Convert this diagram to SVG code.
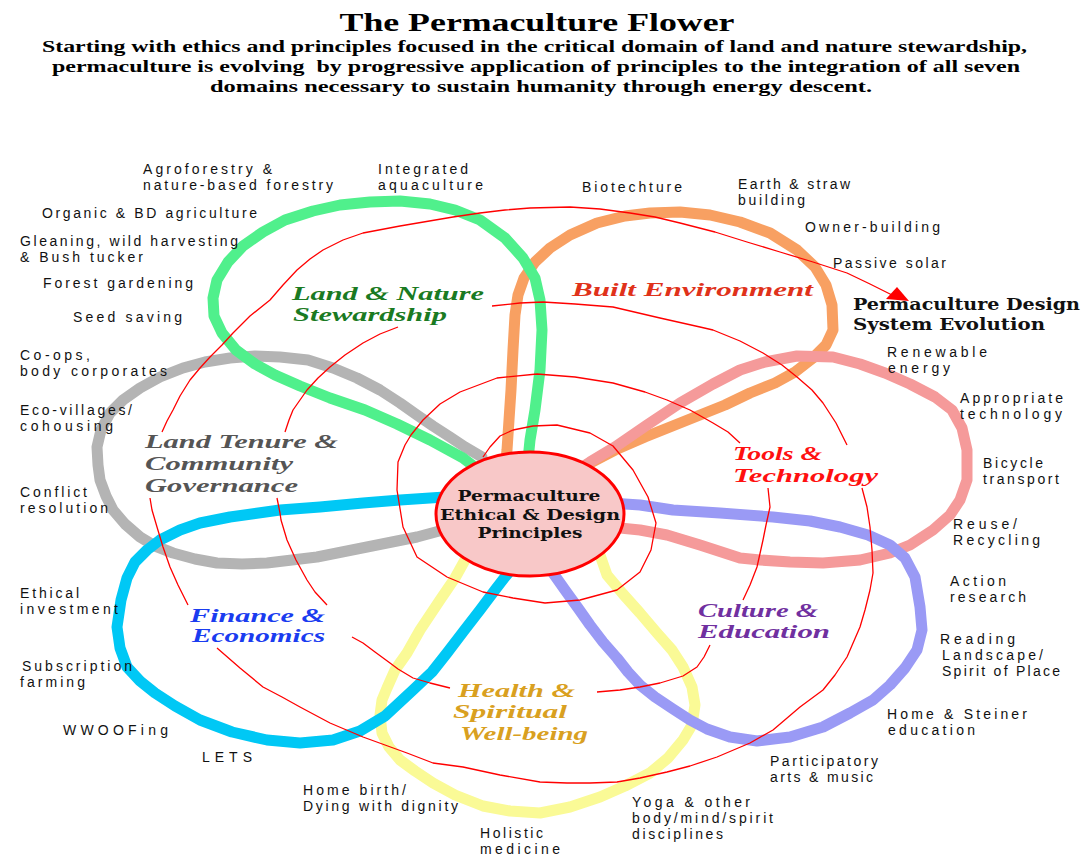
<svg xmlns="http://www.w3.org/2000/svg" width="1085" height="857" viewBox="0 0 1085 857">
<style>
.bg{fill:#fff}
.title{font-family:"Liberation Serif","Times New Roman",serif;font-weight:bold;fill:#000}
.item{font-family:"Liberation Sans",Arial,sans-serif;font-size:14px;fill:#111}
.dom{font-family:"Liberation Serif",serif;font-style:italic;font-weight:bold;font-size:19px}
.ctr{font-family:"DejaVu Serif","Liberation Serif",serif;font-weight:bold;font-size:15px;fill:#111}
.evo{font-family:"DejaVu Serif","Liberation Serif",serif;font-weight:bold;font-size:16px;fill:#111}
.loop{fill:none;stroke-width:11;stroke-linejoin:round;stroke-linecap:round}
.spiral{fill:none;stroke:#ff0000;stroke-width:1.3;stroke-linejoin:round}
</style>
<rect class="bg" x="0" y="0" width="1085" height="857"/>

<g id="header">
<text class="title" x="537" y="31" font-size="26" text-anchor="middle" textLength="395" lengthAdjust="spacingAndGlyphs">The Permaculture Flower</text>
<text class="title" x="42" y="52" font-size="17" textLength="985" lengthAdjust="spacingAndGlyphs">Starting with ethics and principles focused in the critical domain of land and nature stewardship,</text>
<text class="title" x="52" y="72" font-size="17" textLength="968" lengthAdjust="spacingAndGlyphs" xml:space="preserve">permaculture is evolving  by progressive application of principles to the integration of all seven</text>
<text class="title" x="210" y="92" font-size="17" textLength="662" lengthAdjust="spacingAndGlyphs">domains necessary to sustain humanity through energy descent.</text>
</g>

<g id="petal-loops">
<polyline class="loop" stroke="#fafa96" points="600,555 607,575 623,594 640,613 657,633 672,650 683,667 692,687 695,705 692,725 683,740 668,758 650,773 625,786 600,797 570,807 540,813 510,811 483,806 455,795 433,783 415,771 400,760 389,747 382,733 380,715 382,700 387,688 395,670 407,653 420,630 440,600 455,578 465,560"/>
<polyline class="loop" stroke="#b4b4b4" points="482,457 465,447 450,437 433,426 417,415 400,403 380,390 357,378 333,368 308,360 280,357 255,356 230,358 205,362 183,368 160,377 140,388 123,400 110,413 101,430 97,447 98,465 100,480 106,496 113,510 125,524 140,537 155,546 173,553 195,559 217,563 242,564 267,563 292,560 317,557 342,552 367,547 392,542 417,537 443,530"/>
<polyline class="loop" stroke="#f8a062" points="505,470 507,450 509,420 511,390 513,350 515,315 518,295 524,278 535,262 550,248 570,235 597,223 625,216 650,213 680,212 710,215 740,222 770,233 797,250 815,267 826,285 832,305 833,330 826,345 813,358 795,372 775,383 750,393 725,405 700,415 675,425 645,437 615,450 590,463 570,475"/>
<polyline class="loop" stroke="#50f08c" points="527,470 530,440 535,410 540,370 542,330 540,300 535,278 523,258 505,238 480,220 455,210 430,204 400,201 370,202 340,205 313,211 285,220 263,232 243,246 228,262 217,280 213,298 214,316 222,333 236,350 255,364 275,375 300,386 330,398 365,410 397,424 430,440 463,458 485,475"/>
<polyline class="loop" stroke="#f59a9a" points="570,475 590,462 615,447 647,425 680,403 713,384 740,370 765,362 797,356 833,357 860,364 885,373 910,384 935,397 952,410 962,428 967,450 967,480 960,500 950,515 933,530 910,545 890,553 860,560 823,563 790,562 760,560 740,558 700,545 667,535 640,530 610,527"/>
<polyline class="loop" stroke="#9a9af5" points="610,503 640,505 673,510 720,513 773,517 810,521 840,527 868,535 890,545 905,558 915,577 920,607 922,630 917,650 905,668 890,685 873,700 850,713 823,727 790,737 757,741 730,737 707,729 690,720 673,709 655,697 640,685 628,672 617,658 603,642 590,625 578,608 565,590 553,573 545,560"/>
<polyline class="loop" stroke="#00c8f5" points="445,497 400,500 363,503 320,507 280,510 230,517 200,523 180,530 160,540 147,550 135,562 127,578 121,600 117,627 120,648 127,667 140,681 155,693 175,706 200,720 232,732 267,740 300,743 333,740 360,731 385,716 413,690 432,672 447,653 463,632 480,610 495,590 505,577 515,565"/>
</g>

<g id="connectors">
<polyline class="spiral" points="483,457 490,447 500,436 513,430 533,426 557,425 590,433 613,446 633,470 648,497 656,523 651,550 640,572 617,590 580,600 545,603 513,598 483,592 447,577 417,557 403,527 397,490 398,462 405,445 411,435 423,420 440,404 460,392 497,378 537,374 575,377 613,383 645,392 667,400 690,410 713,423 728,432 740,443"/>
<polyline class="spiral" points="768,488 770,507 766,525 763,540 757,567 750,585 743,600"/>
<polyline class="spiral" points="710,645 704,657 697,667 683,676 660,683 640,687 620,690 597,692"/>
<polyline class="spiral" points="450,688 430,683 413,678 398,669 390,663 375,652 363,643 352,637"/>
<polyline class="spiral" points="327,605 315,592 307,580 296,560 287,540 281,520 280,513 277,498"/>
<polyline class="spiral" points="285,432 289,420 293,410 300,400 307,390 318,378 330,367 345,355 363,343 380,334 398,327"/>
<polyline class="spiral" points="492,306 520,303 543,302 575,304 613,307 660,318 700,327 713,330 740,341 763,353 782,365 797,377 812,390 823,403 836,423 847,445"/>
<polyline class="spiral" points="862,488 867,507 870,527 872,550 873,573 870,590 865,610 860,627 847,657 835,675 823,690 800,707 773,730 750,743 717,757 690,766 667,772 640,778 617,782 590,783 567,783 540,782 500,775 463,767 433,763 407,753 385,745 363,737 330,723 300,707 282,697 263,687 240,668 217,648"/>
<polyline class="spiral" points="188,605 178,585 170,567 163,547 157,527 152,510 150,498"/>
<polyline class="spiral" points="162,432 167,421 173,410 180,396 190,380 200,368 210,357 222,345 233,333 250,316 270,300 283,285 297,270 310,259 323,250 343,240 363,233 400,226 453,217 480,213 505,210 530,208 570,207 600,209 630,213 655,217 680,223 715,232 747,242 780,252 813,262 847,273 870,284 892,295"/>
<polygon fill="#ff0000" points="886,299 897,287 909,301"/>
</g>

<g id="center">
<ellipse cx="530" cy="514" rx="94" ry="62" fill="#f8c8c8" stroke="#ff0000" stroke-width="3"/>
<text class="ctr" x="529" y="501" text-anchor="middle" textLength="143" lengthAdjust="spacingAndGlyphs">Permaculture</text>
<text class="ctr" x="530" y="520" text-anchor="middle" textLength="180" lengthAdjust="spacingAndGlyphs">Ethical &amp; Design</text>
<text class="ctr" x="530" y="538" text-anchor="middle" textLength="105" lengthAdjust="spacingAndGlyphs">Principles</text>
</g>

<g id="evolution">
<text class="evo" x="853" y="310" textLength="227" lengthAdjust="spacingAndGlyphs">Permaculture Design</text>
<text class="evo" x="853" y="330" textLength="192" lengthAdjust="spacingAndGlyphs">System Evolution</text>
</g>

<g id="land-nature">
<text class="dom" fill="#1a7a22" x="292" y="300" textLength="192" lengthAdjust="spacingAndGlyphs">Land &amp; Nature</text>
<text class="dom" fill="#1a7a22" x="293" y="321" textLength="154" lengthAdjust="spacingAndGlyphs">Stewardship</text>
<text class="item" x="143" y="174" textLength="129">Agroforestry &amp;</text>
<text class="item" x="143" y="190" textLength="190">nature-based forestry</text>
<text class="item" x="378" y="174" textLength="90">Integrated</text>
<text class="item" x="378" y="190" textLength="105">aquaculture</text>
<text class="item" x="42" y="218" textLength="215">Organic &amp; BD agriculture</text>
<text class="item" x="20" y="246" textLength="218">Gleaning, wild harvesting</text>
<text class="item" x="20" y="262" textLength="123">&amp; Bush tucker</text>
<text class="item" x="43" y="288" textLength="150">Forest gardening</text>
<text class="item" x="73" y="322" textLength="109">Seed saving</text>
</g>

<g id="built-environment">
<text class="dom" fill="#e0321a" x="572" y="296" textLength="241" lengthAdjust="spacingAndGlyphs">Built Environment</text>
<text class="item" x="582" y="192" textLength="100">Biotechture</text>
<text class="item" x="738" y="189" textLength="112">Earth &amp; straw</text>
<text class="item" x="738" y="205" textLength="67">building</text>
<text class="item" x="805" y="232" textLength="135">Owner-building</text>
<text class="item" x="833" y="268" textLength="113">Passive solar</text>
</g>

<g id="tools-technology">
<text class="dom" fill="#ff1010" x="733" y="460" textLength="89" lengthAdjust="spacingAndGlyphs">Tools &amp;</text>
<text class="dom" fill="#ff1010" x="733" y="482" textLength="145" lengthAdjust="spacingAndGlyphs">Technology</text>
<text class="item" x="887" y="357" textLength="100">Renewable</text>
<text class="item" x="888" y="373" textLength="62">energy</text>
<text class="item" x="960" y="403" textLength="103">Appropriate</text>
<text class="item" x="960" y="419" textLength="102">technology</text>
<text class="item" x="983" y="468" textLength="60">Bicycle</text>
<text class="item" x="983" y="484" textLength="76">transport</text>
<text class="item" x="953" y="529" textLength="64">Reuse/</text>
<text class="item" x="953" y="545" textLength="87">Recycling</text>
</g>

<g id="culture-education">
<text class="dom" fill="#7030a0" x="698" y="617" textLength="120" lengthAdjust="spacingAndGlyphs">Culture &amp;</text>
<text class="dom" fill="#7030a0" x="698" y="638" textLength="132" lengthAdjust="spacingAndGlyphs">Education</text>
<text class="item" x="950" y="586" textLength="56">Action</text>
<text class="item" x="950" y="602" textLength="76">research</text>
<text class="item" x="940" y="644" textLength="75">Reading</text>
<text class="item" x="942" y="660" textLength="101">Landscape/</text>
<text class="item" x="942" y="676" textLength="118">Spirit of Place</text>
<text class="item" x="887" y="719" textLength="140">Home &amp; Steiner</text>
<text class="item" x="888" y="735" textLength="87">education</text>
<text class="item" x="770" y="766" textLength="108">Participatory</text>
<text class="item" x="770" y="782" textLength="103">arts &amp; music</text>
</g>

<g id="health-wellbeing">
<text class="dom" fill="#d9a020" x="458" y="697" textLength="117" lengthAdjust="spacingAndGlyphs">Health &amp;</text>
<text class="dom" fill="#d9a020" x="453" y="718" textLength="114" lengthAdjust="spacingAndGlyphs">Spiritual</text>
<text class="dom" fill="#d9a020" x="460" y="740" textLength="128" lengthAdjust="spacingAndGlyphs">Well-being</text>
<text class="item" x="632" y="807" textLength="118">Yoga &amp; other</text>
<text class="item" x="632" y="823" textLength="141">body/mind/spirit</text>
<text class="item" x="632" y="839" textLength="91">disciplines</text>
<text class="item" x="480" y="838" textLength="63">Holistic</text>
<text class="item" x="480" y="854" textLength="80">medicine</text>
<text class="item" x="303" y="795" textLength="103">Home birth/</text>
<text class="item" x="303" y="811" textLength="155">Dying with dignity</text>
</g>

<g id="finance-economics">
<text class="dom" fill="#1a3cf0" x="190" y="622" textLength="135" lengthAdjust="spacingAndGlyphs">Finance &amp;</text>
<text class="dom" fill="#1a3cf0" x="192" y="642" textLength="133" lengthAdjust="spacingAndGlyphs">Economics</text>
<text class="item" x="20" y="598" textLength="59">Ethical</text>
<text class="item" x="20" y="614" textLength="98">investment</text>
<text class="item" x="22" y="671" textLength="110">Subscription</text>
<text class="item" x="20" y="687" textLength="65">farming</text>
<text class="item" x="63" y="735" textLength="105">WWOOFing</text>
<text class="item" x="202" y="762" textLength="50">LETS</text>
</g>

<g id="land-tenure">
<text class="dom" fill="#555555" x="145" y="448" textLength="193" lengthAdjust="spacingAndGlyphs">Land Tenure &amp;</text>
<text class="dom" fill="#555555" x="145" y="470" textLength="148" lengthAdjust="spacingAndGlyphs">Community</text>
<text class="dom" fill="#555555" x="145" y="492" textLength="153" lengthAdjust="spacingAndGlyphs">Governance</text>
<text class="item" x="20" y="360" textLength="70">Co-ops,</text>
<text class="item" x="20" y="376" textLength="147">body corporates</text>
<text class="item" x="20" y="415" textLength="112">Eco-villages/</text>
<text class="item" x="20" y="431" textLength="93">cohousing</text>
<text class="item" x="20" y="497" textLength="67">Conflict</text>
<text class="item" x="20" y="513" textLength="88">resolution</text>
</g>
</svg>
